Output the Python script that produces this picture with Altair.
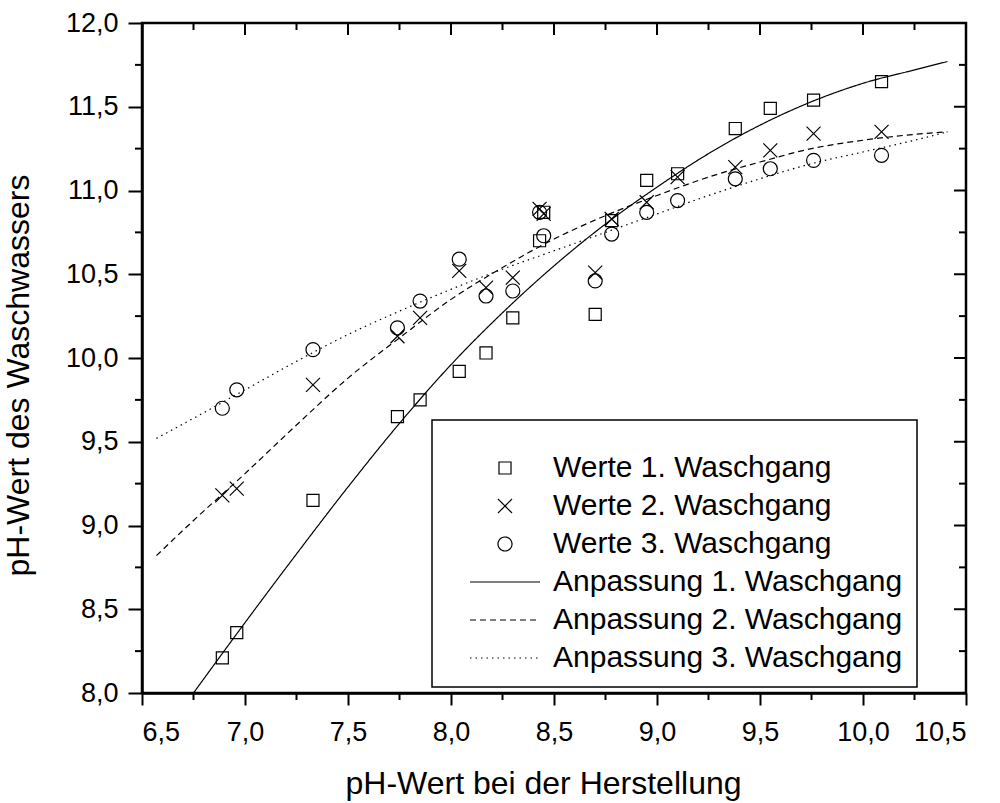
import altair as alt
import pandas as pd

# pH value at production (x) – shared by all three wash cycles
ph_herstellung = [6.89, 6.96, 7.33, 7.74, 7.85, 8.04, 8.17, 8.30, 8.43, 8.45,
                  8.70, 8.78, 8.95, 9.10, 9.38, 9.55, 9.76, 10.09]
werte_1 = [8.21, 8.36, 9.15, 9.65, 9.75, 9.92, 10.03, 10.24, 10.70, 10.87,
           10.26, 10.82, 11.06, 11.10, 11.37, 11.49, 11.54, 11.65]
werte_2 = [9.18, 9.22, 9.84, 10.13, 10.24, 10.52, 10.42, 10.48, 10.89, 10.86,
           10.51, 10.83, 10.93, 11.08, 11.14, 11.24, 11.34, 11.35]
werte_3 = [9.70, 9.81, 10.05, 10.18, 10.34, 10.59, 10.37, 10.40, 10.87, 10.73,
           10.46, 10.74, 10.87, 10.94, 11.07, 11.13, 11.18, 11.21]

# fitted curves
fit1_x = [6.75, 7.0, 7.25, 7.5, 7.75, 8.0, 8.25, 8.5, 8.75, 9.0, 9.25, 9.5,
          9.75, 10.0, 10.25, 10.41]
fit1_y = [8.00, 8.42, 8.83, 9.23, 9.61, 9.96, 10.27, 10.55, 10.80, 11.02,
          11.22, 11.39, 11.53, 11.64, 11.72, 11.77]
fit23_x = [6.57, 6.75, 7.0, 7.25, 7.5, 7.75, 8.0, 8.25, 8.5, 8.75, 9.0, 9.25,
           9.5, 9.75, 10.0, 10.25, 10.41]
fit2_y = [8.82, 9.03, 9.31, 9.60, 9.88, 10.12, 10.35, 10.54, 10.71, 10.85,
          10.97, 11.08, 11.17, 11.25, 11.30, 11.335, 11.35]
fit3_y = [9.52, 9.64, 9.81, 9.98, 10.14, 10.28, 10.41, 10.53, 10.64, 10.75,
          10.86, 10.97, 11.07, 11.16, 11.23, 11.30, 11.35]

labels = ["Werte 1. Waschgang", "Werte 2. Waschgang", "Werte 3. Waschgang",
          "Anpassung 1. Waschgang", "Anpassung 2. Waschgang",
          "Anpassung 3. Waschgang"]

x_major = [6.5, 7.0, 7.5, 8.0, 8.5, 9.0, 9.5, 10.0, 10.5]
x_minor = [6.75, 7.25, 7.75, 8.25, 8.75, 9.25, 9.75, 10.25]
y_major = [8.0, 8.5, 9.0, 9.5, 10.0, 10.5, 11.0, 11.5, 12.0]
y_minor = [8.25, 8.75, 9.25, 9.75, 10.25, 10.75, 11.25, 11.75]

W, H = 824, 670
FONT = "Liberation Sans"

points = pd.DataFrame({
    "x": ph_herstellung * 3,
    "y": werte_1 + werte_2 + werte_3,
    "serie": [labels[0]] * len(werte_1) + [labels[1]] * len(werte_2)
             + [labels[2]] * len(werte_3),
})
fits = pd.DataFrame({
    "x": fit1_x + fit23_x + fit23_x,
    "y": fit1_y + fit2_y + fit3_y,
    "serie": [labels[3]] * len(fit1_x) + [labels[4]] * len(fit23_x)
             + [labels[5]] * len(fit23_x),
})

comma = "replace(format(datum.value, '.1f'), '.', ',')"
x_scale = alt.Scale(domain=[6.5, 10.5], nice=False, zero=False)
y_scale = alt.Scale(domain=[8.0, 12.0], nice=False, zero=False)
x_axis = alt.Axis(title="pH-Wert bei der Herstellung", values=x_major,
                  labelExpr=comma, grid=False, tickSize=12, labelPadding=14,
                  titleX=401, titlePadding=23)
y_axis = alt.Axis(title="pH-Wert des Waschwassers", values=y_major,
                  labelExpr=comma, grid=False, tickSize=14, labelPadding=10,
                  titleY=352, titlePadding=30)


def X(field):
    return alt.X(field, type="quantitative", scale=x_scale, axis=x_axis)


def Y(field):
    return alt.Y(field, type="quantitative", scale=y_scale, axis=y_axis)


SQUARE = "M-0.86,-0.86H0.86V0.86H-0.86Z"
CROSS = "M-1,-1L1,1M-1,1L1,-1"
LINE = "M-5,0H5"

# one legend shared by the shape (markers) and strokeDash (fits) channels
legend = alt.Legend(
    title=" ", titleFontSize=10, titlePadding=9,
    orient="none", legendX=290, legendY=397,
    padding=14, strokeColor="black", fillColor="white",
    labelFont=FONT, labelFontSize=30, labelColor="black", labelLimit=800,
    symbolSize=196, symbolOffset=44, labelOffset=33, rowPadding=8,
    symbolFillColor="transparent", symbolStrokeColor="black",
    symbolStrokeWidth=1.2, symbolOpacity=1,
)
shape_scale = alt.Scale(domain=labels,
                        range=[SQUARE, CROSS, "circle", LINE, LINE, LINE])
dash_scale = alt.Scale(domain=labels,
                       range=[[1, 0], [1, 0], [1, 0], [1, 0], [6, 4], [1.5, 4]])

marker_layer = alt.Chart(points).mark_point(
    filled=False, color="black", strokeWidth=1.2, size=196, opacity=1
).encode(
    x=X("x"), y=Y("y"),
    shape=alt.Shape("serie:N", legend=legend, scale=shape_scale),
)

fit_layer = alt.Chart(fits).mark_line(
    color="black", strokeWidth=1.2, interpolate="monotone"
).encode(
    x=X("x"), y=Y("y"),
    strokeDash=alt.StrokeDash("serie:N", legend=legend, scale=dash_scale),
)


def tick_rules(values, horizontal, a, b, width=2):
    df = pd.DataFrame({"v": values})
    ch = alt.Chart(df).mark_rule(color="black", strokeWidth=width)
    if horizontal:
        return ch.encode(x=X("v"), y=alt.value(a), y2=alt.value(b))
    return ch.encode(y=Y("v"), x=alt.value(a), x2=alt.value(b))


ticks = [
    tick_rules(x_minor, True, H, H + 7),      # bottom minor, outward
    tick_rules(x_major, True, 0, 12),         # top major, inward
    tick_rules(x_minor, True, 0, 7),          # top minor, inward
    tick_rules(y_minor, False, -7, 0),        # left minor, outward
    tick_rules(y_major, False, W - 12, W),    # right major, inward
    tick_rules(y_minor, False, W - 7, W),     # right minor, inward
]

chart = alt.layer(fit_layer, marker_layer, *ticks).properties(
    width=W, height=H, background="white",
    padding={"left": 142, "top": 23, "right": 34, "bottom": 110},
    autosize=alt.AutoSizeParams(type="none"),
).configure_view(
    stroke="black", strokeWidth=2.5
).configure_axis(
    labelFont=FONT, titleFont=FONT, labelFontSize=27, titleFontSize=32,
    labelColor="black", titleColor="black", titleFontWeight="normal",
    tickColor="black", tickWidth=2, domainColor="black", domainWidth=2.5,
).configure_legend(
    strokeWidth=1.5
)

chart.save("out.html", embed_options={"renderer": "svg", "actions": False})
